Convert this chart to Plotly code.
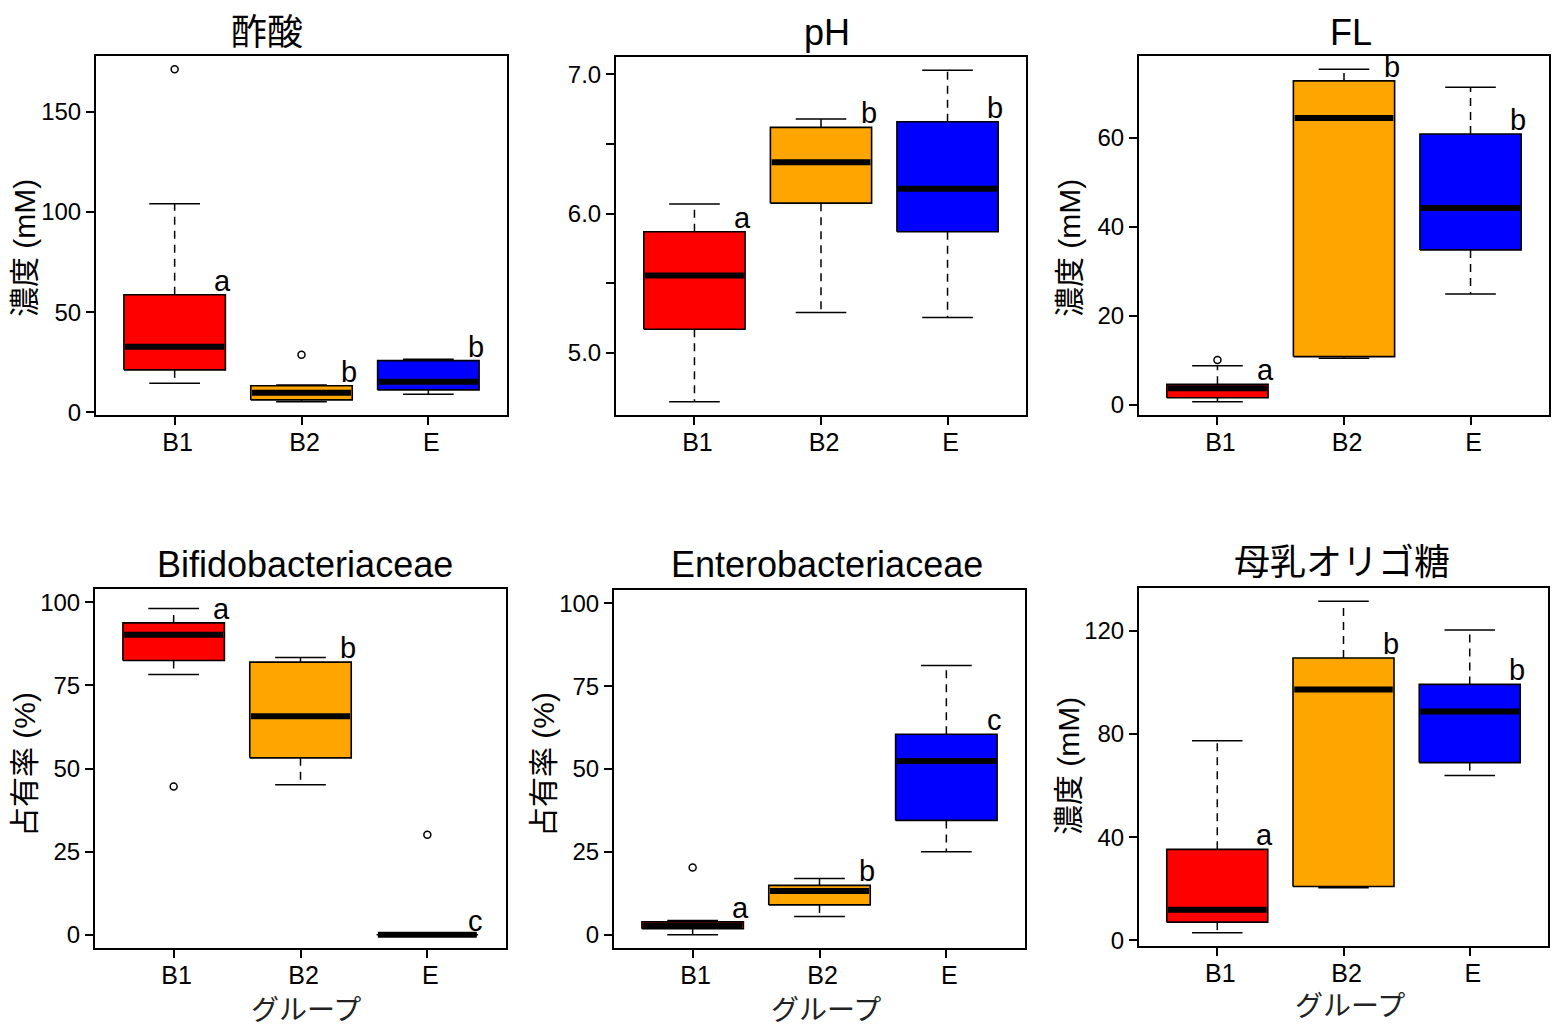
import plotly.graph_objects as go

W, H = 1563, 1028

groups = ["B1", "B2", "E"]
box_colors = ["#FF0000", "#FFA500", "#0000FF"]

# ---- 酢酸 (acetic acid, mM)
acetic_lw = [14.5, 5.3, 9.0]
acetic_q1 = [21.2, 6.2, 11.2]
acetic_med = [32.8, 9.8, 15.3]
acetic_q3 = [58.7, 13.3, 25.8]
acetic_uw = [104.2, 13.6, 26.5]
acetic_out = [[171.3], [28.7], []]
acetic_letters = ["a", "b", "b"]
acetic_ticks = [0, 50, 100, 150]

# ---- pH
ph_lw = [4.65, 5.29, 5.255]
ph_q1 = [5.17, 6.076, 5.87]
ph_med = [5.556, 6.37, 6.18]
ph_q3 = [5.87, 6.62, 6.66]
ph_uw = [6.07, 6.68, 7.03]
ph_out = [[], [], []]
ph_letters = ["a", "b", "b"]
ph_ticks = [5.0, 5.5, 6.0, 6.5, 7.0]
ph_ticktext = ["5.0", "", "6.0", "", "7.0"]

# ---- FL (mM)
fl_lw = [0.75, 10.5, 24.9]
fl_q1 = [1.64, 10.86, 34.8]
fl_med = [3.75, 64.4, 44.2]
fl_q3 = [4.65, 72.7, 60.8]
fl_uw = [8.84, 75.3, 71.3]
fl_out = [[10.1], [], []]
fl_letters = ["a", "b", "b"]
fl_ticks = [0, 20, 40, 60]

# ---- Bifidobacteriaceae (%)
bif_lw = [78.3, 45.1, 0.0]
bif_q1 = [82.5, 53.2, 0.0]
bif_med = [90.2, 65.7, 0.0]
bif_q3 = [93.8, 82.0, 0.0]
bif_uw = [98.1, 83.4, 0.0]
bif_out = [[44.6], [], [30.1]]
bif_letters = ["a", "b", "c"]
pct_ticks = [0, 25, 50, 75, 100]
pct_lim = [0, 100]

# ---- Enterobacteriaceae (%)
ent_lw = [0.0, 5.5, 25.0]
ent_q1 = [1.8, 9.0, 34.5]
ent_med = [2.8, 13.2, 52.4]
ent_q3 = [3.9, 14.9, 60.5]
ent_uw = [4.3, 17.0, 81.2]
ent_out = [[20.3], [], []]
ent_letters = ["a", "b", "c"]

# ---- 母乳オリゴ糖 (HMO, mM)
hmo_lw = [3.0, 20.4, 63.9]
hmo_q1 = [7.1, 20.9, 68.9]
hmo_med = [11.9, 97.2, 88.7]
hmo_q3 = [35.3, 109.4, 99.2]
hmo_uw = [77.4, 131.4, 120.3]
hmo_out = [[], [], []]
hmo_letters = ["a", "b", "b"]
hmo_ticks = [0, 40, 80, 120]

ylab_conc = "濃度 (mM)"
ylab_pct = "占有率 (%)"
xlab = "グループ"

panels = [
    dict(title="酢酸", lw=acetic_lw, q1=acetic_q1, med=acetic_med, q3=acetic_q3, uw=acetic_uw,
         out=acetic_out, letters=acetic_letters, ticks=acetic_ticks, ticktext=None, ylim=None,
         ylabel=ylab_conc, xlabel=None),
    dict(title="pH", lw=ph_lw, q1=ph_q1, med=ph_med, q3=ph_q3, uw=ph_uw,
         out=ph_out, letters=ph_letters, ticks=ph_ticks, ticktext=ph_ticktext, ylim=None,
         ylabel=None, xlabel=None),
    dict(title="FL", lw=fl_lw, q1=fl_q1, med=fl_med, q3=fl_q3, uw=fl_uw,
         out=fl_out, letters=fl_letters, ticks=fl_ticks, ticktext=None, ylim=None,
         ylabel=ylab_conc, xlabel=None),
    dict(title="Bifidobacteriaceae", lw=bif_lw, q1=bif_q1, med=bif_med, q3=bif_q3, uw=bif_uw,
         out=bif_out, letters=bif_letters, ticks=pct_ticks, ticktext=None, ylim=pct_lim,
         ylabel=ylab_pct, xlabel=xlab),
    dict(title="Enterobacteriaceae", lw=ent_lw, q1=ent_q1, med=ent_med, q3=ent_q3, uw=ent_uw,
         out=ent_out, letters=ent_letters, ticks=pct_ticks, ticktext=None, ylim=pct_lim,
         ylabel=ylab_pct, xlabel=xlab),
    dict(title="母乳オリゴ糖", lw=hmo_lw, q1=hmo_q1, med=hmo_med, q3=hmo_q3, uw=hmo_uw,
         out=hmo_out, letters=hmo_letters, ticks=hmo_ticks, ticktext=None, ylim=None,
         ylabel=ylab_conc, xlabel=xlab),
]

# ---- layout geometry (pixels of the 1563x1028 page)
plot_px = [  # left, right, top, bottom
    (96, 507, 56, 415),
    (616, 1026, 57, 415),
    (1139, 1549, 56, 415),
    (95, 506, 589, 948),
    (614, 1025, 590, 948),
    (1139, 1548, 588, 946),
]
title_px = [(267, 32), (827, 32), (1351, 32), (305, 564), (827, 564), (1342, 562)]
ylabel_px = [(24, 248), None, (1069, 248), (24, 765), (543, 765), (1068, 766)]
xlabel_px = [None, None, None, (306, 1010), (826, 1010), (1350, 1006)]

FONT = "Liberation Sans, Arial, Noto Sans CJK JP, sans-serif"


def fx(p):
    return p / W


def fy(p):
    return 1 - p / H


fig = go.Figure()
annotations = []
layout_axes = {}

pos = [1, 2, 3]
half = 0.4
cap = 0.2

for k, (p, geom) in enumerate(zip(panels, plot_px), start=1):
    xa = "x" if k == 1 else f"x{k}"
    ya = "y" if k == 1 else f"y{k}"
    for i, xi in enumerate(pos):
        lw, q1, md, q3, uw = p["lw"][i], p["q1"][i], p["med"][i], p["q3"][i], p["uw"][i]
        # dashed whiskers
        fig.add_trace(go.Scatter(
            x=[xi, xi, None, xi, xi], y=[q3, uw, None, q1, lw], mode="lines",
            line=dict(color="black", width=1.5, dash="8px,6px"),
            xaxis=xa, yaxis=ya, showlegend=False, hoverinfo="skip"))
        # caps
        fig.add_trace(go.Scatter(
            x=[xi - cap, xi + cap, None, xi - cap, xi + cap], y=[uw, uw, None, lw, lw], mode="lines",
            line=dict(color="black", width=1.5),
            xaxis=xa, yaxis=ya, showlegend=False, hoverinfo="skip"))
        # box
        fig.add_trace(go.Scatter(
            x=[xi - half, xi + half, xi + half, xi - half, xi - half],
            y=[q1, q1, q3, q3, q1], mode="lines", fill="toself",
            fillcolor=box_colors[i], line=dict(color="black", width=1.6),
            xaxis=xa, yaxis=ya, showlegend=False, hoverinfo="skip"))
        # median
        fig.add_trace(go.Scatter(
            x=[xi - half + 0.01, xi + half - 0.01], y=[md, md], mode="lines",
            line=dict(color="black", width=6),
            xaxis=xa, yaxis=ya, showlegend=False, hoverinfo="skip"))
        # outliers
        if p["out"][i]:
            fig.add_trace(go.Scatter(
                x=[xi] * len(p["out"][i]), y=p["out"][i], mode="markers",
                marker=dict(symbol="circle-open", size=7, color="black", line=dict(width=1.5)),
                xaxis=xa, yaxis=ya, showlegend=False, hoverinfo="skip"))
        # significance letters
        annotations.append(dict(
            x=xi + 0.377, y=q3, xref=xa, yref=ya, text=p["letters"][i], showarrow=False,
            xanchor="center", yanchor="bottom", yshift=-4,
            font=dict(family=FONT, size=29, color="black")))

    # y range as R does (4% extension)
    if p["ylim"] is None:
        vals = p["lw"] + p["uw"] + [v for o in p["out"] for v in o]
        lo, hi = min(vals), max(vals)
    else:
        lo, hi = p["ylim"]
    ext = (hi - lo) * 0.04
    yr = [lo - ext, hi + ext]

    l, r, t, b = geom
    axsuffix = "" if k == 1 else str(k)
    layout_axes[f"xaxis{axsuffix}"] = dict(
        domain=[fx(l), fx(r)], anchor=ya, range=[0.38, 3.62], automargin=False,
        tickmode="array", tickvals=pos, ticktext=groups,
        ticks="outside", ticklen=8, tickwidth=1.5, tickcolor="black",
        ticklabelstandoff=-4, ticklabelshift=3,
        showline=True, mirror=True, linecolor="black", linewidth=2,
        showgrid=False, zeroline=False,
        tickfont=dict(family=FONT, size=25, color="black"))
    yax = dict(
        domain=[fy(b), fy(t)], anchor=xa, range=yr, automargin=False,
        tickmode="array", tickvals=p["ticks"],
        ticks="outside", ticklen=8, tickwidth=1.5, tickcolor="black",
        showline=True, mirror=True, linecolor="black", linewidth=2,
        showgrid=False, zeroline=False,
        tickfont=dict(family=FONT, size=24, color="black"))
    if p["ticktext"] is not None:
        yax["ticktext"] = p["ticktext"]
    layout_axes[f"yaxis{axsuffix}"] = yax

    # title
    tx, ty = title_px[k - 1]
    annotations.append(dict(
        x=fx(tx), y=fy(ty), xref="paper", yref="paper", text=p["title"], showarrow=False,
        xanchor="center", yanchor="middle",
        font=dict(family=FONT, size=36, color="black")))
    if p["ylabel"]:
        lx, ly = ylabel_px[k - 1]
        annotations.append(dict(
            x=fx(lx), y=fy(ly), xref="paper", yref="paper", text=p["ylabel"], showarrow=False,
            xanchor="center", yanchor="middle", textangle=-90,
            font=dict(family=FONT, size=30, color="black")))
    if p["xlabel"]:
        lx, ly = xlabel_px[k - 1]
        annotations.append(dict(
            x=fx(lx), y=fy(ly), xref="paper", yref="paper", text=p["xlabel"], showarrow=False,
            xanchor="center", yanchor="middle",
            font=dict(family=FONT, size=28, color="#222222")))

fig.update_layout(
    width=W, height=H, margin=dict(l=0, r=0, t=0, b=0, pad=0, autoexpand=False),
    paper_bgcolor="white", plot_bgcolor="white",
    annotations=annotations, showlegend=False,
    **layout_axes)

post = (
    "var de=document.documentElement,bd=document.body;"
    "de.style.margin='0';de.style.padding='0';de.style.overflow='hidden';"
    "bd.style.margin='0';bd.style.padding='0';bd.style.overflow='hidden';"
)

fig.write_html("out.html", config={"displayModeBar": False}, post_script=post)
